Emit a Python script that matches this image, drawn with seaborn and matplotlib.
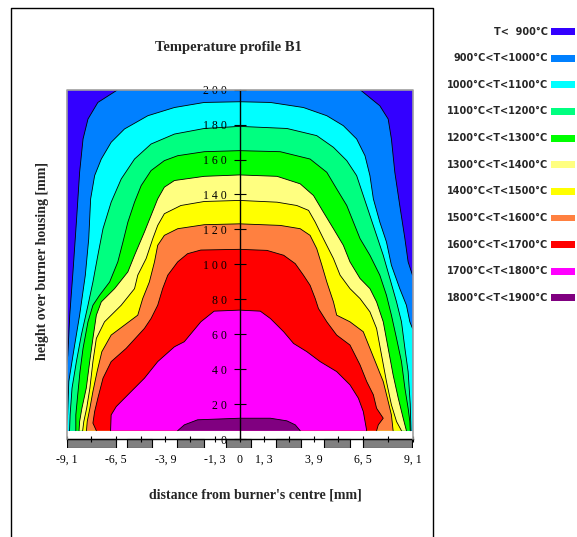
import numpy as np
import pandas as pd
import matplotlib.pyplot as plt
import seaborn as sns
from matplotlib.patches import Rectangle
from matplotlib.lines import Line2D

# ---------- data (mm) ----------
# each level: boundary of the region T > level, from its left end to its right end
x_900 = [-9.1, -9.04, -8.94, -8.77, -8.59, -8.42, -8.24, -7.98, -7.46, -6.41,
         6.34, 7.38, 7.82, 7.99, 8.17, 8.43, 8.70, 8.87, 9.1]
y_900 = [42.4, 48.1, 70.9, 95.7, 124.2, 152.7, 171.8, 183.2, 192.7, 200.0,
         200.0, 190.8, 183.2, 171.8, 152.7, 133.7, 114.7, 101.4, 93.8]

x_1000 = [-9.1, -9.05, -8.99, -8.71, -8.42, -8.12, -7.94, -7.84, -7.63, -7.28,
          -6.76, -6.06, -4.83, -3.43, -1.86, 0.0, 1.62, 3.36, 4.59, 5.46,
          6.16, 6.60, 6.86, 7.04, 7.38, 7.73, 7.99, 8.43, 8.78, 8.96, 9.1]
y_1000 = [8.0, 13.8, 32.9, 51.9, 70.9, 93.8, 114.7, 137.5, 150.8, 160.3,
          169.9, 177.5, 185.1, 189.8, 192.7, 193.1, 192.7, 189.8, 185.1, 179.4,
          171.8, 162.2, 150.8, 137.5, 124.2, 112.8, 99.5, 86.1, 76.6, 67.1, 63.3]

x_1100 = [-8.95, -8.92, -8.82, -8.59, -8.33, -7.98, -7.72, -7.46, -7.19, -6.76,
          -6.23, -5.53, -4.66, -3.43, -1.86, 0.0, 2.49, 4.06, 4.94, 5.64,
          6.16, 6.51, 6.86, 7.21, 7.56, 7.91, 8.26, 8.52, 8.70, 8.87, 8.98, 9.02]
y_1100 = [4.75, 13.8, 29.1, 44.3, 59.5, 76.6, 89.9, 105.2, 120.4, 135.6,
          148.9, 160.3, 168.9, 174.6, 177.8, 179.0, 177.8, 173.7, 167.0, 159.4,
          150.8, 139.4, 128.0, 116.6, 105.2, 91.9, 78.5, 67.1, 51.9, 38.6, 20.0, 4.75]

x_1200 = [-8.62, -8.62, -8.52, -8.40, -8.24, -7.98, -7.72, -7.37, -6.84, -6.41,
          -6.14, -5.88, -5.53, -5.18, -4.66, -3.96, -3.26, -1.86, 0.0, 2.14,
          3.71, 4.59, 5.11, 5.64, 5.99, 6.34, 6.86, 7.38, 7.73, 7.99,
          8.26, 8.52, 8.70, 8.87, 8.96, 8.98]
y_1200 = [4.75, 13.8, 25.3, 38.6, 51.9, 67.1, 76.6, 82.3, 89.9, 101.4,
          112.8, 124.2, 135.6, 145.1, 153.7, 159.4, 162.2, 164.5, 165.1, 164.5,
          160.3, 152.7, 143.2, 133.7, 124.2, 114.7, 105.2, 93.8, 82.3, 70.9,
          57.6, 44.3, 29.1, 17.6, 10.0, 4.75]

x_1300 = [-8.45, -8.42, -8.30, -8.07, -7.89, -7.72, -7.54, -7.28, -6.58, -5.88,
          -5.53, -5.01, -4.66, -4.31, -3.96, -3.43, -1.86, 0.0, 1.97, 3.19,
          3.89, 4.41, 4.94, 5.46, 5.81, 6.34, 6.86, 7.21, 7.56, 7.82,
          8.08, 8.35, 8.61, 8.78]
y_1300 = [4.75, 10.0, 17.6, 29.1, 44.3, 57.6, 70.9, 78.5, 86.1, 95.7,
          105.2, 118.5, 128.0, 137.5, 144.2, 148.0, 150.4, 151.2, 150.4, 146.1,
          139.4, 129.9, 120.4, 110.9, 101.4, 91.9, 86.1, 78.5, 67.1, 51.9,
          36.7, 23.4, 11.9, 4.75]

x_1400 = [-8.26, -8.20, -8.05, -7.88, -7.72, -7.54, -7.11, -6.23, -5.53, -5.36,
          -4.92, -4.57, -4.31, -3.96, -3.09, -1.86, 0.0, 1.97, 3.01, 3.63,
          3.98, 4.41, 4.94, 5.29, 5.81, 6.34, 6.86, 7.21, 7.47, 7.73,
          7.99, 8.26, 8.52]
y_1400 = [4.75, 10.0, 17.6, 29.1, 44.3, 57.6, 67.1, 76.6, 86.1, 93.8,
          103.3, 114.7, 122.3, 129.0, 133.7, 136.0, 136.6, 135.6, 133.7, 130.9,
          124.2, 114.7, 103.3, 93.8, 86.1, 80.4, 72.8, 63.3, 48.1, 32.9,
          19.6, 10.0, 4.75]

x_1500 = [-8.06, -8.02, -7.88, -7.72, -7.50, -7.25, -6.76, -6.06, -5.36, -5.10,
          -4.75, -4.48, -4.31, -3.96, -3.26, -1.86, 0.0, 2.14, 3.19, 3.71,
          4.06, 4.33, 4.59, 4.94, 5.11, 5.81, 6.51, 6.86, 7.21, 7.56,
          7.82, 7.99, 8.08]
y_1500 = [4.75, 10.0, 17.6, 27.2, 38.6, 50.0, 59.5, 65.2, 70.9, 80.4,
          89.9, 101.4, 110.9, 116.6, 120.4, 122.7, 123.2, 122.3, 120.4, 116.6,
          109.0, 99.5, 89.9, 78.5, 70.9, 67.1, 61.4, 51.9, 42.4, 32.9,
          21.5, 13.8, 4.75]

x_1600 = [-7.54, -7.72, -7.63, -7.46, -7.19, -6.76, -5.97, -5.01, -4.66, -4.31,
          -4.05, -3.78, -3.26, -2.74, -2.04, 0.0, 1.44, 2.32, 2.93, 3.36,
          3.71, 3.98, 4.15, 4.59, 5.11, 5.81, 6.34, 6.69, 7.04, 7.21,
          7.56, 7.30, 7.21]
y_1600 = [4.75, 9.1, 15.7, 23.4, 34.8, 44.3, 51.9, 63.3, 69.0, 76.6,
          86.1, 93.8, 101.4, 106.1, 108.2, 108.6, 108.0, 105.2, 100.4, 93.8,
          88.0, 80.4, 74.7, 67.1, 59.5, 53.8, 42.4, 32.9, 25.3, 17.6,
          11.9, 8.1, 4.75]

x_1700 = [-6.79, -6.76, -6.49, -5.88, -5.01, -4.31, -3.43, -2.91, -2.04, -1.34,
          0.0, 1.09, 1.62, 2.32, 2.84, 3.54, 4.24, 5.11, 5.81, 6.25,
          6.51, 6.69]
y_1700 = [4.75, 13.8, 18.6, 25.3, 34.8, 44.3, 52.8, 55.7, 67.1, 73.2,
          73.8, 73.2, 69.0, 61.4, 54.7, 50.0, 44.3, 38.6, 31.0, 23.4,
          15.7, 4.75]

x_1800 = [-3.26, -2.91, -2.21, 0.0, 1.62, 2.49, 2.93, 3.19]
y_1800 = [4.75, 8.1, 11.0, 11.9, 11.9, 10.4, 8.1, 4.75]

band_labels = ["T<  900°C", "900°C<T<1000°C", "1000°C<T<1100°C", "1100°C<T<1200°C",
               "1200°C<T<1300°C", "1300°C<T<1400°C", "1400°C<T<1500°C",
               "1500°C<T<1600°C", "1600°C<T<1700°C", "1700°C<T<1800°C",
               "1800°C<T<1900°C"]
band_colors = ["#3300ff", "#0080ff", "#00ffff", "#00ff80", "#00ff00", "#ffff80",
               "#ffff00", "#ff8040", "#ff0000", "#ff00ff", "#800080"]

# burner housing segments (mm)
burner_left = [-9.1, -5.9, -3.3, -0.7, 1.9, 4.45, 6.5]
burner_right = [-6.5, -4.6, -1.9, 0.6, 3.25, 5.8, 9.1]

x_ticks = [-9.1, -7.8, -6.5, -5.2, -3.9, -2.6, -1.3, 0.0, 1.3, 2.6, 3.9, 5.2, 6.5, 7.8, 9.1]
x_tick_labels = ["-9, 1", "", "-6, 5", "", "-3, 9", "", "-1, 3", "0", "1, 3", "", "3, 9", "", "6, 5", "", "9, 1"]
y_ticks = [0, 20, 40, 60, 80, 100, 120, 140, 160, 180, 200]
y_tick_labels = ["0", "2 0", "4 0", "6 0", "8 0", "1 0 0", "1 2 0", "1 4 0", "1 6 0", "1 8 0", "2 0 0"]

x_min, x_max = -9.1, 9.1
y_field_bottom = 4.75
y_top = 200

# ---------- plot ----------
sns.set_theme(style="white")
plt.rcParams['font.family'] = ['Liberation Serif', 'DejaVu Sans']

W, H = 577, 537
fig = plt.figure(figsize=(W / 100, H / 100), dpi=100)
ax = fig.add_axes([66.7 / W, (H - 448) / H, (412.5 - 66.7) / W, (448 - 89.7) / H])
ax.set_facecolor("white")
ax.set_axisbelow(False)

levels = [(x_900, y_900), (x_1000, y_1000), (x_1100, y_1100), (x_1200, y_1200),
          (x_1300, y_1300), (x_1400, y_1400), (x_1500, y_1500), (x_1600, y_1600),
          (x_1700, y_1700), (x_1800, y_1800)]

# coldest band fills the whole field, hotter regions stacked on top
ax.fill_between([x_min, x_max], y_field_bottom, y_top, color=band_colors[0], lw=0, zorder=1)
for (xs, ys), col in zip(levels, band_colors[1:]):
    ax.fill(list(xs) + [xs[-1], xs[0]], list(ys) + [y_field_bottom, y_field_bottom],
            color=col, lw=0, zorder=1)
    sns.lineplot(x=xs, y=ys, sort=False, estimator=None, color="black",
                 lw=0.6, ax=ax, zorder=2)

# burner housing strip
ax.bar(burner_left, -5.0, width=np.array(burner_right) - np.array(burner_left),
       bottom=0, align="edge", color="#808080", edgecolor="black", lw=0.8, zorder=1)

# light frame of the field
ax.plot([x_min, x_min, x_max, x_max], [0, y_top, y_top, 0], color="#a0a0a0", lw=1.2, zorder=4, clip_on=False)

ax.set_xlim(x_min, x_max)
ax.set_ylim(-5.15, y_top)
ax.set_xlabel("")
ax.set_ylabel("")

for s in ["top", "right"]:
    ax.spines[s].set_visible(False)
ax.spines["left"].set_position(("data", 0))
ax.spines["left"].set_bounds(0, 200)
ax.spines["bottom"].set_position(("data", 0))
for s in ["left", "bottom"]:
    ax.spines[s].set_color("black")
    ax.spines[s].set_linewidth(1.0)
    ax.spines[s].set_zorder(3)

ax.set_xticks(x_ticks)
ax.set_xticklabels(x_tick_labels)
ax.set_yticks(y_ticks)
ax.set_yticklabels(y_tick_labels)
ax.tick_params(axis="x", bottom=True, direction="inout", length=5, width=0.8,
               color="black", pad=8, labelsize=8.5, labelcolor="black")
ax.tick_params(axis="y", left=True, direction="inout", length=8.6, width=0.8,
               color="black", pad=5, labelsize=8.5, labelcolor="black")

# texts
fig.text(228 / W, 1 - 48 / H, "Temperature profile B1", ha="center", va="center",
         fontsize=10.5, fontweight="bold", family="Liberation Serif")
fig.text(255.5 / W, 1 - 495 / H, "distance from burner's centre [mm]", ha="center",
         va="center", fontsize=10, fontweight="bold", family="Liberation Serif")
fig.text(43 / W, 1 - 260.5 / H, "height over burner housing [mm]", ha="center",
         va="center", rotation=90, fontsize=10, fontweight="bold", family="Liberation Serif")

# legend on the right
for i, (lab, col) in enumerate(zip(band_labels, band_colors)):
    yc = 31.7 + i * 26.6
    fig.text(548 / W, 1 - yc / H, lab, ha="right", va="center", fontsize=7,
             fontweight="bold", family="DejaVu Sans")
    fig.add_artist(Rectangle((550.7 / W, 1 - (yc + 3.4) / H), 24.3 / W, 6.8 / H,
                             transform=fig.transFigure, facecolor=col, edgecolor="none"))

# outer frame
fig.add_artist(Line2D([11 / W, 11 / W, 433 / W, 433 / W], [0, 1 - 8 / H, 1 - 8 / H, 0],
                      transform=fig.transFigure, color="black", lw=1.0))

fig.savefig("out.png", dpi=100)
